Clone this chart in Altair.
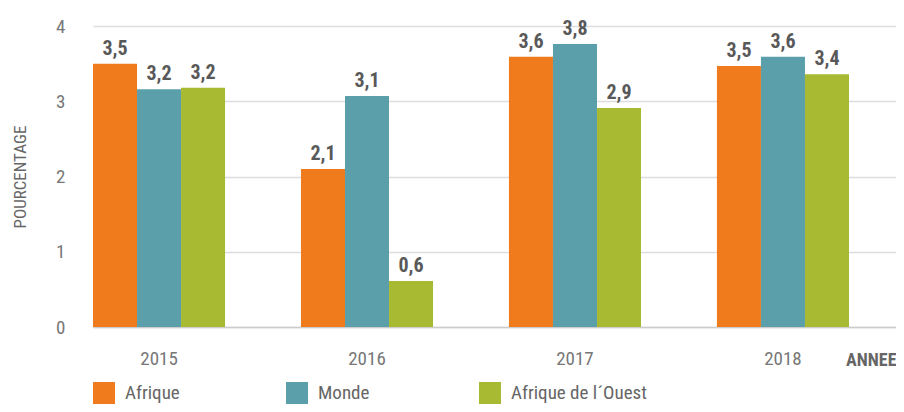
import altair as alt
import pandas as pd

years = ["2015", "2016", "2017", "2018"]
series = ["Afrique", "Monde", "Afrique de l´Ouest"]
afrique = [3.50, 2.10, 3.59, 3.47]
monde = [3.16, 3.07, 3.76, 3.59]
ouest = [3.18, 0.61, 2.91, 3.36]
colors = ["#F07B1D", "#5B9FAA", "#A7BA31"]

rows = []
for i, y in enumerate(years):
    for s, vals in zip(series, [afrique, monde, ouest]):
        rows.append({"annee": y, "serie": s, "valeur": vals[i]})
df = pd.DataFrame(rows)

FONT = "Liberation Sans Narrow, Roboto Condensed, Roboto, sans-serif"

base = alt.Chart(df).encode(
    x=alt.X(
        "annee:N",
        sort=years,
        scale=alt.Scale(paddingInner=0.365, paddingOuter=0.113, align=0),
        axis=alt.Axis(
            title="ANNEE",
            titleX=803,
            titleY=24,
            titleAlign="right",
            titleBaseline="top",
            titleFontWeight="bold",
            titleFontSize=18,
            titleColor="#666666",
            labelAngle=0,
            labelFontSize=19,
            labelColor="#777777",
            labelPadding=22,
            ticks=False,
            tickSize=0,
            domain=True,
            domainColor="#cccccc",
            domainWidth=1.5,
            grid=False,
        ),
    ),
    xOffset=alt.XOffset("serie:N", sort=series, scale=alt.Scale(paddingInner=0, paddingOuter=0)),
)

bars = base.mark_bar().encode(
    y=alt.Y(
        "valeur:Q",
        scale=alt.Scale(domain=[0, 4], nice=False),
        axis=alt.Axis(
            title="POURCENTAGE",
            titleAngle=270,
            titleX=-73,
            titleY=150.5,
            titleAlign="center",
            titleBaseline="middle",
            titleFontSize=17,
            titleFontWeight="normal",
            titleColor="#666666",
            values=[0, 1, 2, 3, 4],
            format="d",
            labelFontSize=19,
            labelColor="#777777",
            labelPadding=28,
            ticks=False,
            tickSize=0,
            domain=False,
            grid=True,
            gridColor="#dddddd",
            gridWidth=1.5,
        ),
    ),
    color=alt.Color(
        "serie:N",
        sort=series,
        scale=alt.Scale(domain=series, range=colors),
        legend=alt.Legend(
            title=None,
            orient="none",
            legendX=0,
            legendY=356,
            direction="horizontal",
            columns=3,
            gridAlign="all",
            columnPadding=25,
            symbolType="square",
            symbolSize=484,
            symbolStrokeWidth=0,
            symbolOpacity=1,
            labelFontSize=19,
            labelColor="#666666",
            labelOffset=10,
            labelLimit=300,
        ),
    ),
)

labels = base.mark_text(
    baseline="alphabetic", dy=-9, fontSize=20, fontWeight="bold", color="#595959"
).encode(
    y=alt.Y("valeur:Q"),
    text=alt.Text("lbl:N"),
).transform_calculate(lbl="replace(format(datum.valeur, '.1f'), '.', ',')")

chart = (
    alt.layer(bars, labels)
    .properties(
        width=803,
        height=301,
        autosize=alt.AutoSizeParams(type="none"),
        padding={"left": 85, "top": 18, "right": 0, "bottom": 77},
    )
    .configure(font=FONT)
    .configure_view(stroke=None)
)

chart.save("out.html", embed_options={"renderer": "svg", "actions": False})
